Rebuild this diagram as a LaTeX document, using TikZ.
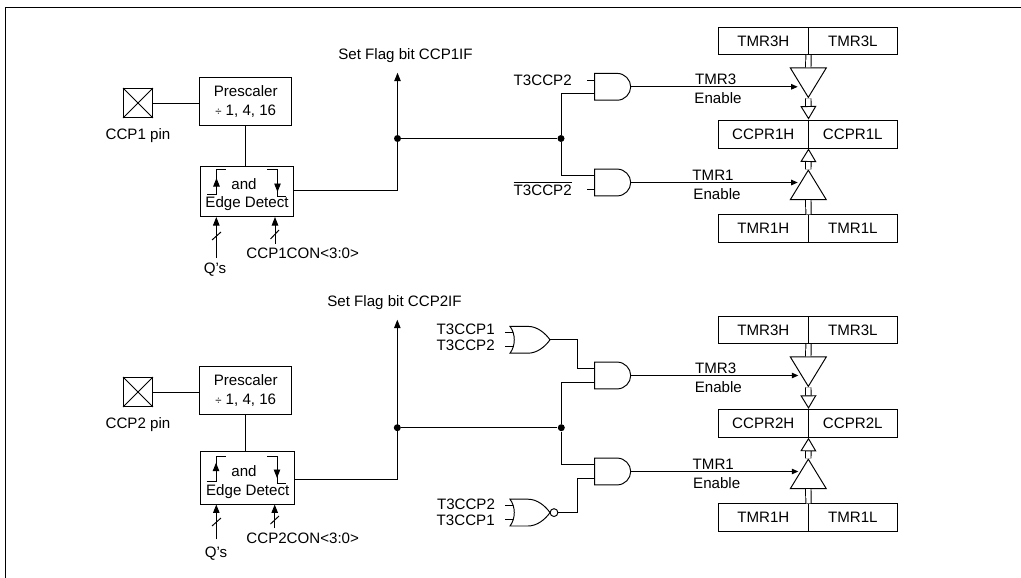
\documentclass[tikz,border=0pt]{standalone}
\usepackage{fontspec}
\setmainfont{Liberation Sans}
\usetikzlibrary{arrows.meta, positioning, shapes.geometric, calc}
\tikzset{
  wire/.style={line width=0.55pt},
  arrowS/.style={-{Triangle[length=1.7mm, width=1.3mm]}, wire},
  arrowE/.style={-{Triangle[length=1.3mm, width=1.1mm]}, wire},
  busLine/.style={wire, double, double distance=2.5pt},
  busArrow/.style={wire, double, double distance=2.5pt,
                   -{Triangle[open, fill=white, length=2.7mm, width=3.2mm]}},
  boxP/.style={rectangle, draw, wire, fill=white, align=center, inner sep=0pt,
               minimum width=1.83cm, minimum height=0.96cm, font=\fontsize{8.6}{10.8}\selectfont},
  boxE/.style={rectangle, draw, wire, inner sep=0pt, minimum width=1.87cm},
  boxR/.style={rectangle, draw, wire, inner sep=0pt, minimum width=1.79cm,
               minimum height=0.55cm, font=\fontsize{8.6}{9}\selectfont},
  pinBox/.style={rectangle, draw, wire, minimum size=0.58cm, inner sep=0pt},
  txt/.style={inner sep=0pt, font=\fontsize{8.6}{9}\selectfont},
  dotJ/.style={circle, fill=black, minimum size=0.14cm, inner sep=0pt},
  bufDown/.style={isosceles triangle, draw, wire, fill=white, inner sep=0pt, anchor=apex,
                  shape border rotate=-90, isosceles triangle apex angle=64,
                  isosceles triangle stretches, minimum height=0.59cm, minimum width=0.72cm},
  bufUp/.style={bufDown, shape border rotate=90},
  gateAnd/.pic={
    \draw[wire] (0,-13.4) -- (22.6,-13.4) .. controls (30,-13.4) and (36,-7) .. (36,0)
      .. controls (36,7) and (30,13.4) .. (22.6,13.4) -- (0,13.4) -- cycle;
    \coordinate (-in1) at (0,-6.7);
    \coordinate (-in2) at (0,6.7);
    \coordinate (-out) at (36,0);
  },
  gateOr/.pic={
    \draw[wire] (0,-13.4) -- (18,-13.4) .. controls (27,-13.4) and (35,-7) .. (40,0)
      .. controls (35,7) and (27,13.4) .. (18,13.4) -- (0,13.4)
      .. controls (5.7,6) and (5.7,-6) .. (0,-13.4) -- cycle;
    \coordinate (-in1) at (3.4,-7);
    \coordinate (-in2) at (3.4,7);
    \coordinate (-out) at (40,0);
  },
  gateNor/.pic={
    \pic (-g) {gateOr};
    \draw[wire] (44,0) circle[radius=3.9];
    \coordinate (-in1) at (3.4,-7);
    \coordinate (-in2) at (3.4,7);
    \coordinate (-out) at (48,0);
  },
}
\newcommand{\barT}{$\overline{\mbox{T3CCP2}}$}
\begin{document}
\begin{tikzpicture}[x=0.02cm, y=-0.02cm]
  \useasboundingbox (0,0) rectangle (1021,578);
  \draw[line width=0.9pt] (5.5,578) |- (1021,7.3);

  % first capture block
  \node[pinBox] (pinA) at (138,103) {};
  \draw[wire] (pinA.north west) -- (pinA.south east) (pinA.north east) -- (pinA.south west);
  \node[txt, below=0.2cm of pinA] (pinAt) {CCP1 pin};
  \node[boxP] (preA) at (245.7,101.3) {Prescaler\\{\fontsize{6.5}{6}\selectfont ÷} 1, 4, 16};
  \node[boxE, minimum height=1.01cm] (edgeA) at (247.2,191.3) {};
  \node[txt] (andA) at (244,184) {and};
  \node[txt] (detA) at (247,204) {Edge Detect};
  \node[txt] (qA) at (215,270) {Q’s};
  \node[txt] (conA) at (302.7,253) {CCP1CON<3:0>};
  \node[txt] (flagA) at (405.5,56) {Set Flag bit CCP1IF};
  \node[dotJ] (dotA) at (397.5,138.5) {};
  \node[dotJ] (dotB) at (561,138.5) {};
  \coordinate (tipA) at (397.5,72.7);
  \coordinate (qAe) at (216.3,258);
  \coordinate (conAe) at (275,243.5);
  \draw[wire] (pinA.east) -- (pinA.east -| preA.west);
  \draw[wire] (preA.south -| 245,0) -- (245,166);
  \draw[arrowS] (edgeA.east |- 0,190) -| (tipA);
  \draw[wire] (dotA) -- (dotB);
  \draw[arrowS] (qAe) -- (qAe |- edgeA.south);
  \draw[arrowS] (conAe) -- (conAe |- edgeA.south);
  \draw[wire] (212,240) -- (221,232) (270.5,239) -- (279,230);
  \draw[arrowS] (207,194) -| (216.5,178);
  \draw[wire] (216.5,180) |- (225.7,169);
  \draw[arrowS] (267,169) -| (277.5,192);
  \draw[wire] (277.5,188) |- (285.7,196);

  \pic (gateAa) at (594.7,86.8) {gateAnd};
  \pic (gateAb) at (594.7,182.5) {gateAnd};
  \node[txt] (lblAa) at (542.7,80) {T3CCP2};
  \node[txt] (lblAb) at (542.7,188.5) {\barT};
  \draw[wire] (gateAa-in1) -- ++(-7.4,0);
  \draw[wire] (gateAb-in2) -- ++(-7.4,0);
  \draw[wire] (dotB) |- (gateAa-in2);
  \draw[wire] (dotB) |- (gateAb-in1);

  \node[boxR] (tmrAh) at (763.3,40.8) {TMR3H};
  \node[boxR, right=-0.55pt of tmrAh] (tmrAl) {TMR3L};
  \node[boxR, minimum height=0.56cm] (ccpAh) at (763.3,134) {CCPR1H};
  \node[boxR, minimum height=0.56cm, right=-0.55pt of ccpAh] (ccpAl) {CCPR1L};
  \node[boxR] (tmrBh) at (763.3,228.7) {TMR1H};
  \node[boxR, right=-0.55pt of tmrBh] (tmrBl) {TMR1L};
  \coordinate (midAa) at (tmrAh.south east);
  \coordinate (midAb) at (ccpAh.north east);
  \coordinate (midAc) at (ccpAh.south east);
  \coordinate (midAd) at (tmrBh.north east);
  \node[bufDown] (bufAa) at (808.3,98.3) {};
  \node[bufUp] (bufAb) at (808.3,169.3) {};
  \draw[busLine] (midAa) -- (bufAa.north);
  \draw[busLine] (midAd) -- (bufAb.south);
  \draw[busArrow] (bufAa.apex) -- (midAb);
  \draw[busArrow] (bufAb.apex) -- (midAc);
  \coordinate (enAa) at (797.7,86.8);
  \coordinate (enAb) at (797.7,182.5);
  \draw[arrowE] (gateAa-out) -- (enAa);
  \draw[arrowE] (gateAb-out) -- (enAb);
  \node[txt] (tA) at (715.7,79.3) {TMR3};
  \node[txt] (eA) at (718,98) {Enable};
  \node[txt] (tB) at (713,175) {TMR1};
  \node[txt] (eB) at (717,193.7) {Enable};

  % second capture block
  \node[pinBox] (pinB) at (138,392) {};
  \draw[wire] (pinB.north west) -- (pinB.south east) (pinB.north east) -- (pinB.south west);
  \node[txt, below=0.2cm of pinB] (pinBt) {CCP2 pin};
  \node[boxP] (preB) at (245.7,390.3) {Prescaler\\{\fontsize{6.5}{6}\selectfont ÷} 1, 4, 16};
  \node[boxE, minimum height=1.06cm] (edgeB) at (247.5,477.5) {};
  \node[txt] (andB) at (244,470.7) {and};
  \node[txt] (detB) at (247.7,491.3) {Edge Detect};
  \node[txt] (qB) at (216,554) {Q’s};
  \node[txt] (conB) at (302.7,538.7) {CCP2CON<3:0>};
  \node[txt] (flagB) at (394.5,303) {Set Flag bit CCP2IF};
  \node[dotJ] (dotC) at (397.3,427.7) {};
  \node[dotJ] (dotD) at (561.3,427.7) {};
  \coordinate (tipB) at (397.3,319.7);
  \coordinate (qBe) at (216.3,539.3);
  \coordinate (conBe) at (274.7,528);
  \draw[wire] (pinB.east) -- (pinB.east -| preB.west);
  \draw[wire] (preB.south -| 245.3,0) -- (245.3,451);
  \draw[arrowS] (edgeB.east |- 0,479) -| (tipB);
  \draw[wire] (dotC) -- (dotD);
  \draw[arrowS] (qBe) -- (qBe |- edgeB.south);
  \draw[arrowS] (conBe) -- (conBe |- edgeB.south);
  \draw[wire] (212,526) -- (221,518) (270.5,524) -- (279,516);
  \draw[arrowS] (206.7,481.3) -| (216,462.7);
  \draw[wire] (216,465) |- (225.7,456);
  \draw[arrowS] (267,456) -| (277,478);
  \draw[wire] (277,474) |- (285.7,483);

  \pic (gateOa) at (510,339.8) {gateOr};
  \pic (gateNa) at (510,512.6) {gateNor};
  \pic (gateBa) at (594.7,375.5) {gateAnd};
  \pic (gateBb) at (594.7,471.5) {gateAnd};
  \node[txt] (lblBa) at (465.7,329) {T3CCP1};
  \node[txt] (lblBb) at (465.7,345) {T3CCP2};
  \node[txt] (lblBc) at (466,504) {T3CCP2};
  \node[txt] (lblBd) at (465.7,520) {T3CCP1};
  \draw[wire] (gateOa-in1) -- ++(-8,0);
  \draw[wire] (gateOa-in2) -- ++(-8,0);
  \draw[wire] (gateNa-in1) -- ++(-8,0);
  \draw[wire] (gateNa-in2) -- ++(-8,0);
  \draw[wire] (gateOa-out) -| (577.7,350) |- (gateBa-in1);
  \draw[wire] (gateNa-out) -| (577.5,490) |- (gateBb-in2);
  \draw[wire] (dotD) |- (gateBa-in2);
  \draw[wire] (dotD) |- (gateBb-in1);

  \node[boxR] (tmrCh) at (763.3,329.8) {TMR3H};
  \node[boxR, right=-0.55pt of tmrCh] (tmrCl) {TMR3L};
  \node[boxR, minimum height=0.56cm] (ccpBh) at (763.3,423.3) {CCPR2H};
  \node[boxR, minimum height=0.56cm, right=-0.55pt of ccpBh] (ccpBl) {CCPR2L};
  \node[boxR] (tmrDh) at (763.3,517.7) {TMR1H};
  \node[boxR, right=-0.55pt of tmrDh] (tmrDl) {TMR1L};
  \coordinate (midBa) at (tmrCh.south east);
  \coordinate (midBb) at (ccpBh.north east);
  \coordinate (midBc) at (ccpBh.south east);
  \coordinate (midBd) at (tmrDh.north east);
  \node[bufDown] (bufBa) at (808.3,387.3) {};
  \node[bufUp] (bufBb) at (808.3,458.3) {};
  \draw[busLine] (midBa) -- (bufBa.north);
  \draw[busLine] (midBd) -- (bufBb.south);
  \draw[busArrow] (bufBa.apex) -- (midBb);
  \draw[busArrow] (bufBb.apex) -- (midBc);
  \coordinate (enBa) at (798.3,375.5);
  \coordinate (enBb) at (798.3,471.5);
  \draw[arrowE] (gateBa-out) -- (enBa);
  \draw[arrowE] (gateBb-out) -- (enBb);
  \node[txt] (tC) at (715.7,368.3) {TMR3};
  \node[txt] (eC) at (718.3,387) {Enable};
  \node[txt] (tD) at (713.3,464) {TMR1};
  \node[txt] (eD) at (716.7,483) {Enable};
\end{tikzpicture}
\end{document}
